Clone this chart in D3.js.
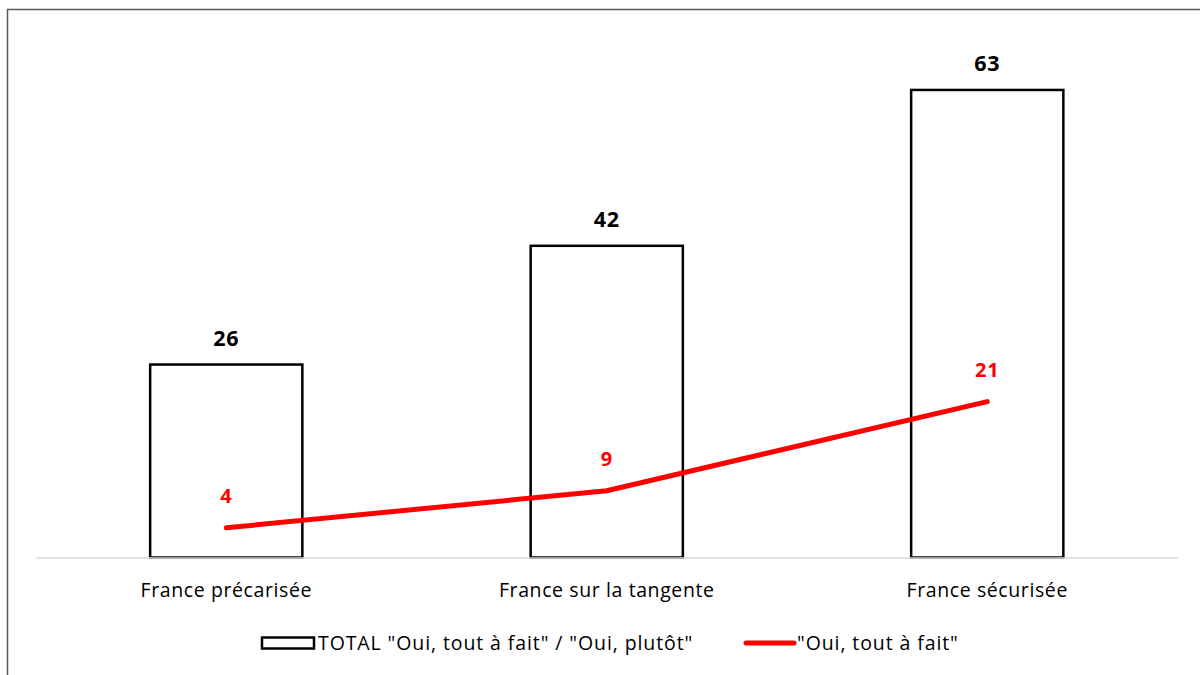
<!DOCTYPE html>
<html><head><meta charset="utf-8">
<script src="https://cdn.jsdelivr.net/npm/d3@7"></script>
<style>body{margin:0;background:#fff}svg{display:block}</style>
</head><body>
<script>
const categories = ["France précarisée", "France sur la tangente", "France sécurisée"];
const totalValues = [26, 42, 63];
const ouiValues = [4, 9, 21];
const seriesNames = ['TOTAL "Oui, tout à fait" / "Oui, plutôt"', '"Oui, tout à fait"'];

const W = 1200, H = 675;
const svg = d3.select("body").append("svg").attr("width", W).attr("height", H);
const font = "'Open Sans', sans-serif";

// chart border
svg.append("path").attr("d", `M7.5,${H} V9.5 H${W}`).attr("fill", "none")
  .attr("stroke", "#595959").attr("stroke-width", 1.5);

const x = d3.scaleBand().domain(categories).range([36, 1177.5]).paddingInner(0.6).paddingOuter(0.3);
const y = d3.scaleLinear().domain([0, 70]).range([557.5, 38]);

const g = svg.append("g");
g.selectAll("rect.bar").data(categories).join("rect").attr("class", "bar")
  .attr("x", d => x(d)).attr("width", x.bandwidth())
  .attr("y", (d, i) => y(totalValues[i])).attr("height", (d, i) => y(0) - y(totalValues[i]))
  .attr("fill", "#fff").attr("stroke", "#000").attr("stroke-width", 2.5);

// baseline axis
const xAxis = d3.axisBottom(x).tickSize(0).tickSizeOuter(0).tickPadding(26);
const ax = svg.append("g").attr("transform", `translate(0,${y(0)})`).call(xAxis);
ax.select(".domain").attr("stroke", "#d9d9d9").attr("stroke-width", 1.5);
ax.selectAll("text").attr("font-family", font).attr("font-size", 19.5)
  .attr("letter-spacing", 0.6).attr("fill", "#000");

g.selectAll("text.tl").data(categories).join("text").attr("class", "tl")
  .attr("x", d => x(d) + x.bandwidth() / 2).attr("y", (d, i) => y(totalValues[i]) - 19)
  .attr("text-anchor", "middle").attr("font-family", font).attr("font-weight", "bold")
  .attr("font-size", 21.5).attr("letter-spacing", 0.8).attr("fill", "#000").text((d, i) => totalValues[i]);

const line = d3.line().x(d => x(d[0]) + x.bandwidth() / 2).y(d => y(d[1]));
g.append("path").datum(categories.map((c, i) => [c, ouiValues[i]]))
  .attr("d", line).attr("fill", "none").attr("stroke", "#ff0000")
  .attr("stroke-width", 5).attr("stroke-linecap", "round").attr("stroke-linejoin", "round");

g.selectAll("text.ol").data(categories).join("text").attr("class", "ol")
  .attr("x", d => x(d) + x.bandwidth() / 2).attr("y", (d, i) => y(ouiValues[i]) - 25)
  .attr("text-anchor", "middle").attr("font-family", font).attr("font-weight", "bold")
  .attr("font-size", 20).attr("letter-spacing", 0.8).attr("fill", "#ff0000").text((d, i) => ouiValues[i]);

// legend
const lg = svg.append("g");
lg.append("rect").attr("x", 262).attr("y", 637.5).attr("width", 52).attr("height", 11)
  .attr("fill", "#fff").attr("stroke", "#000").attr("stroke-width", 2.5);
lg.append("text").attr("x", 318).attr("y", 650).attr("font-family", font).attr("font-size", 19.5)
  .attr("letter-spacing", 0.9).attr("fill", "#000").text(seriesNames[0]);
lg.append("line").attr("x1", 746).attr("x2", 794).attr("y1", 643).attr("y2", 643)
  .attr("stroke", "#ff0000").attr("stroke-width", 5).attr("stroke-linecap", "round");
lg.append("text").attr("x", 797).attr("y", 650).attr("font-family", font).attr("font-size", 19.5)
  .attr("letter-spacing", 0.9).attr("fill", "#000").text(seriesNames[1]);
</script>
</body></html>
